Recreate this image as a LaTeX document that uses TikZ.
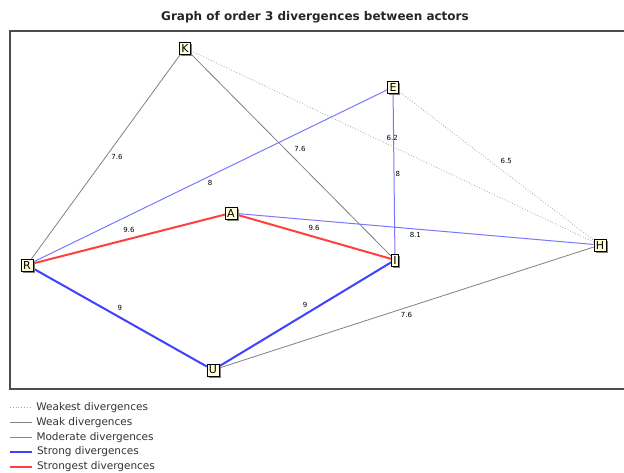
\documentclass[tikz,border=0pt]{standalone}
\usepackage{fontspec}
\setmainfont{DejaVu Sans}
\usetikzlibrary{shadows,backgrounds,positioning}

\definecolor{modblue}{RGB}{120,120,255}
\definecolor{strblue}{RGB}{64,64,255}
\definecolor{strred}{RGB}{255,64,64}

\begin{document}
\begin{tikzpicture}[x=1pt, y=-1pt, font=\fontsize{10.5}{12}\selectfont,
    actor/.style={draw, fill=yellow!15, inner xsep=2pt, inner ysep=2pt,
      font=\fontsize{11}{12}\selectfont,
      drop shadow={shadow xshift=1.8pt, shadow yshift=-1.8pt, fill=black!50, opacity=1}},
    weakest/.style={black!35, dotted, line width=0.8pt},
    weak/.style={black!50, line width=0.8pt},
    moderate/.style={modblue, line width=1pt},
    strong/.style={strblue, line width=2pt},
    strongest/.style={strred, line width=2pt},
    val/.style={text=black, font=\fontsize{7}{8}\selectfont, inner sep=1pt},
    legtext/.style={right=4pt, text=black!80, inner sep=0pt}]
    \useasboundingbox (0,0) rectangle (624,472);
    % title and frame
    \node[font=\bfseries\fontsize{12}{14}\selectfont, text=black!85] (title) at (315,17) {Graph of order 3 divergences between actors};
    \draw[black!70, line width=1.2pt] (630,31) -- (10,31) -- (10,389) -- (630,389);
    % actors
    \node[actor] (K) at (185,48) {K};
    \node[actor] (E) at (393,87) {E};
    \node[actor] (A) at (231,213) {A};
    \node[actor] (R) at (27,265) {R};
    \node[actor] (I) at (395,260) {I};
    \node[actor] (H) at (600,245) {H};
    \node[actor] (U) at (213,370) {U};
    % divergences
    \begin{scope}[on background layer]
      \draw[weakest] (K) -- node[val, above=4pt] {6.2} (H);
      \draw[weakest] (E) -- node[val, above right=1pt and 3pt] {6.5} (H);
      \draw[weak] (K) -- node[val, right=4pt] {7.6} (R);
      \draw[weak] (K) -- node[val, above right=2pt and 2pt] {7.6} (I);
      \draw[weak] (U) -- node[val, below=3pt] {7.6} (H);
      \draw[moderate] (R) -- node[val, below=3pt] {8} (E);
      \draw[moderate] (E) -- node[val, right=0pt] {8} (I);
      \draw[moderate] (A) -- node[val, below=2pt] {8.1} (H);
      \draw[strong] (R) -- node[val, above=5pt] {9} (U);
      \draw[strong] (U) -- node[val, above=5pt] {9} (I);
      \draw[strongest] (R) -- node[val, above=4pt] {9.6} (A);
      \draw[strongest] (A) -- node[val, above=4pt] {9.6} (I);
    \end{scope}
    % legend
    \coordinate (l1) at (10,407.5);
    \coordinate (l2) at (10,422.5);
    \coordinate (l3) at (10,437.5);
    \coordinate (l4) at (10,452);
    \coordinate (l5) at (10,467);
    \draw[weakest] (l1) -- ++(22,0) node[legtext] (t1) {Weakest divergences};
    \draw[weak] (l2) -- ++(22,0) node[legtext] (t2) {Weak divergences};
    \draw[moderate] (l3) -- ++(22,0) node[legtext] (t3) {Moderate divergences};
    \draw[strong] (l4) -- ++(22,0) node[legtext] (t4) {Strong divergences};
    \draw[strongest] (l5) -- ++(22,0) node[legtext] (t5) {Strongest divergences};
\end{tikzpicture}
\end{document}
